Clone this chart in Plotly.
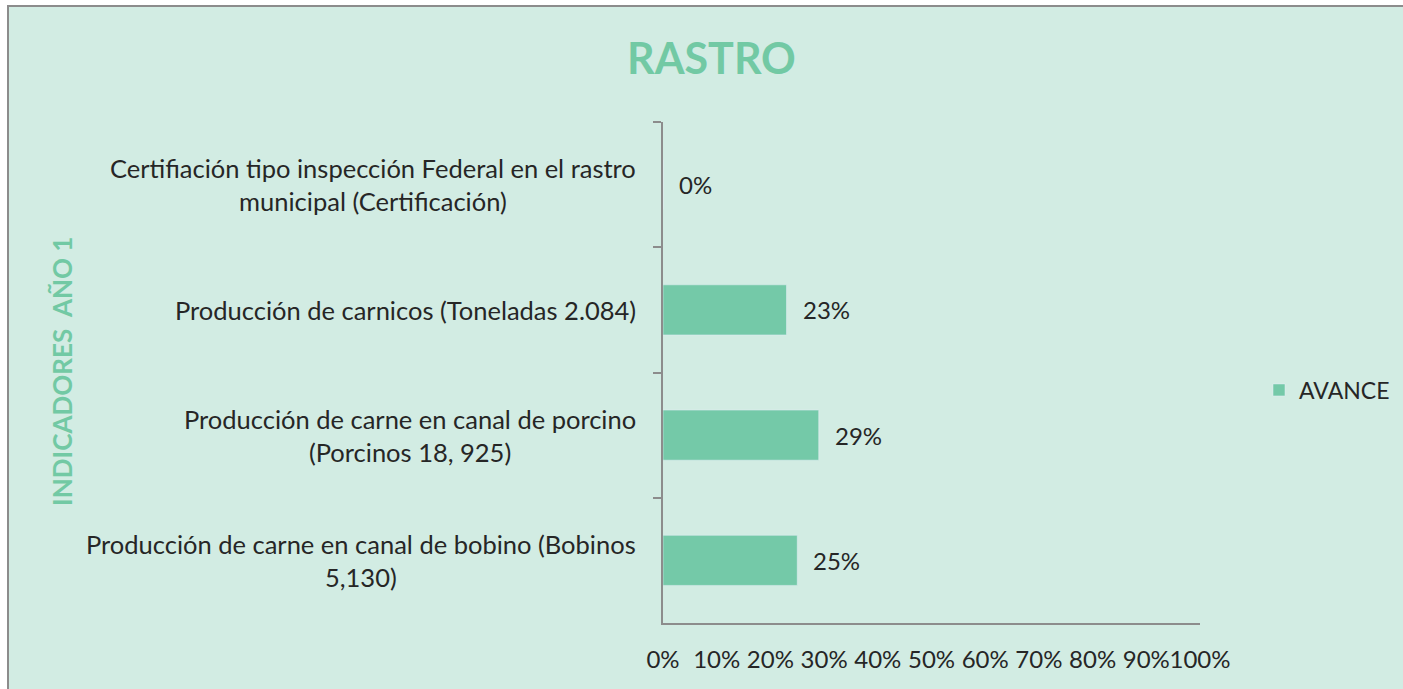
import plotly.graph_objects as go

categories = [
    "Certifiación tipo inspección Federal en el rastro<br>municipal (Certificación)",
    "Producción de carnicos (Toneladas 2.084)",
    "Producción de carne en canal de porcino<br>(Porcinos 18, 925)",
    "Producción de carne en canal de bobino (Bobinos<br>5,130)",
]
avance = [0.0, 0.23, 0.29, 0.25]
x_ticks = [0, 0.1, 0.2, 0.3, 0.4, 0.5, 0.6, 0.7, 0.8, 0.9, 1.0]
series_name = "AVANCE"
title = "RASTRO"
y_title = "INDICADORES  AÑO 1"

BG = "#d2ece3"
BAR = "#74c9a8"
TITLE_C = "#72c9a4"
TXT = "#262626"
FONT = "Lato"

W, H = 1403, 689
L, R, T, B = 663, 203, 122, 66
pw, ph = W - L - R, H - T - B

def px_x(p):
    return (p - L) / pw

def px_y(p):
    return (H - B - p) / ph

fig = go.Figure()
fig.add_trace(go.Bar(
    y=categories, x=avance, orientation="h", name=series_name,
    marker=dict(color=BAR), width=0.4, showlegend=True,
))

annotations = []
for c, v in zip(categories, avance):
    annotations.append(dict(
        x=v, y=c, xref="x", yref="y", text=f"{round(v*100)}%",
        showarrow=False, xanchor="left", xshift=14,
        font=dict(family=FONT, size=24, color=TXT),
    ))
    annotations.append(dict(
        x=px_x(638), y=c, xref="paper", yref="y", text=c,
        showarrow=False, xanchor="right", align="center",
        font=dict(family=FONT, size=25.5, color=TXT),
    ))
annotations.append(dict(
    x=px_x(62), y=px_y(372), xref="paper", yref="paper", text=y_title,
    textangle=-90, showarrow=False, xanchor="center", yanchor="middle",
    font=dict(family=FONT, size=26, color=TITLE_C, weight="bold"),
))
annotations.append(dict(
    x=px_x(711), y=px_y(58), xref="paper", yref="paper", text=title,
    showarrow=False, xanchor="center", yanchor="middle",
    font=dict(family=FONT, size=43, color=TITLE_C, weight="bold"),
))

fig.update_layout(
    width=W, height=H,
    margin=dict(l=L, r=R, t=T, b=B, pad=0, autoexpand=False),
    paper_bgcolor="white", plot_bgcolor="rgba(0,0,0,0)",
    annotations=annotations,
    shapes=[dict(
        type="rect", xref="paper", yref="paper", layer="below",
        x0=px_x(8), x1=px_x(1420), y0=px_y(6), y1=px_y(720),
        fillcolor=BG, line=dict(color="#8c8c8c", width=2),
    )],
    legend=dict(
        x=px_x(1259), y=px_y(390), xanchor="left", yanchor="middle",
        font=dict(family=FONT, size=23, color=TXT), bgcolor="rgba(0,0,0,0)",
        itemwidth=30,
    ),
    xaxis=dict(
        range=[0, 1], tickvals=x_ticks, tickformat=".0%", tickangle=0,
        showgrid=False, zeroline=False, showline=True,
        linecolor="#8c8c8c", linewidth=1.5, ticks="",
        tickfont=dict(family=FONT, size=24, color=TXT),
        ticklabelstandoff=14, fixedrange=True,
    ),
    yaxis=dict(
        autorange="reversed", showticklabels=False,
        showline=True, linecolor="#8c8c8c", linewidth=1.5,
        ticks="outside", tickson="boundaries", ticklen=8,
        tickcolor="#8c8c8c", tickwidth=1.5, showgrid=False,
    ),
    bargap=0.6,
)

fig.write_html(
    "out.html",
    config={"displayModeBar": False},
    post_script="document.body.style.margin='0';document.body.style.overflow='hidden';",
)
